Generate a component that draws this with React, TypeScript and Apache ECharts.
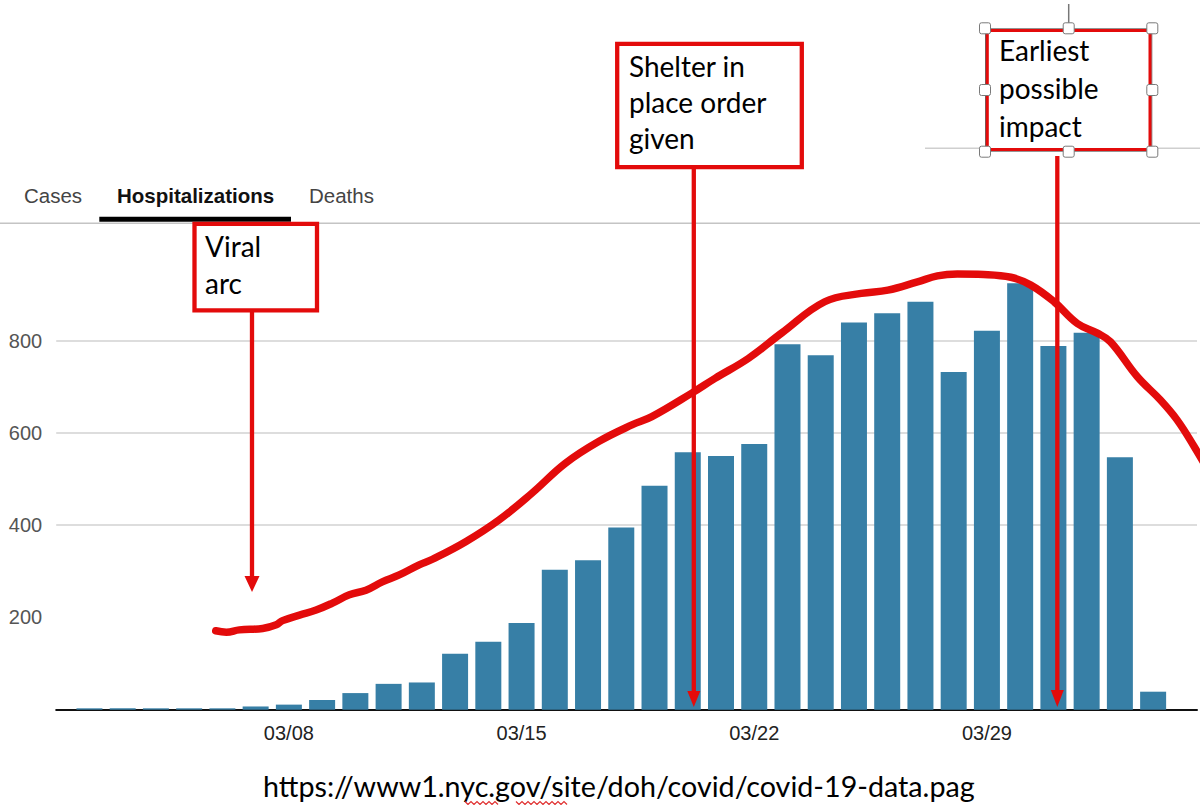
import React, { useEffect, useRef } from 'react';
import * as echarts from 'echarts';

// Daily hospitalizations, NYC (03/02 .. 04/03)
const dates = [
  '03/02', '03/03', '03/04', '03/05', '03/06', '03/07', '03/08', '03/09', '03/10', '03/11',
  '03/12', '03/13', '03/14', '03/15', '03/16', '03/17', '03/18', '03/19', '03/20', '03/21',
  '03/22', '03/23', '03/24', '03/25', '03/26', '03/27', '03/28', '03/29', '03/30', '03/31',
  '04/01', '04/02', '04/03',
];
const hospitalizations = [
  3, 3, 3, 3, 3, 7, 11, 21, 36, 56,
  59, 121, 147, 188, 303, 324, 395, 485, 558, 550,
  576, 792, 768, 839, 859, 884, 732, 821, 924, 788,
  817, 547, 39,
];
const xTickLabels = ['03/08', '03/15', '03/22', '03/29'];
const yTickLabels = [200, 400, 600, 800];

// Hand-drawn "viral arc" curve: position in days from 03/02, value
const arcDay = [
  3.8, 4.12, 4.51, 5.21, 5.62, 5.81, 6.32, 6.82, 7.31, 7.82,
  8.32, 8.81, 9.32, 9.92, 10.32, 11.32, 12.32, 13.31, 14.32, 15.32,
  16.32, 16.92, 18.12, 18.82, 19.82, 20.82, 22.12, 23.22, 24.02, 24.91,
  25.51, 26.11, 26.9, 27.72, 28.32, 29.02, 29.72, 30.32, 30.72, 31.52,
  32.22, 32.72, 33.22, 33.6,
];
const arcValue = [
  171, 168, 173, 176, 184, 193, 205, 216, 231, 249,
  259, 277, 292, 314, 326, 364, 411, 469, 534, 581,
  617, 635, 686, 718, 761, 816, 884, 902, 909, 927,
  940, 944, 943, 937, 920, 884, 837, 816, 797, 722,
  671, 628, 572, 525,
];

const tabs = ['Cases', 'Hospitalizations', 'Deaths'];
const shelterLines = ['Shelter in', 'place order', 'given'];
const viralLines = ['Viral', 'arc'];
const earliestLines = ['Earliest', 'possible', 'impact'];
const sourceText = 'https://www1.nyc.gov/site/doh/covid/covid-19-data.pag';

const RED = '#e30b0b';
const BOX_FONT = '28px Lato';

function textLines(lines: string[], x: number, firstMid: number, step: number) {
  return lines.map((t, k) => ({
    type: 'text',
    z: 20,
    style: {
      text: t, x, y: firstMid + k * step, font: BOX_FONT, fill: '#000',
      textAlign: 'left', textVerticalAlign: 'middle', align: 'left', verticalAlign: 'middle',
    },
  }));
}

function arrow(x: number, y1: number, y2: number, headW: number, headH: number) {
  return [
    { type: 'line', z: 15, shape: { x1: x, y1, x2: x, y2: y2 - headH + 2 }, style: { stroke: RED, lineWidth: 4.3 } },
    { type: 'polygon', z: 15, shape: { points: [[x - headW / 2, y2 - headH], [x + headW / 2, y2 - headH], [x, y2]] }, style: { fill: RED } },
  ];
}

function squiggle(x1: number, x2: number, y: number) {
  const pts: number[][] = [];
  let up = true;
  for (let x = x1; x <= x2; x += 3) { pts.push([x, up ? y - 1.5 : y + 1.5]); up = !up; }
  return { type: 'polyline', z: 20, shape: { points: pts }, style: { stroke: '#e03030', lineWidth: 1.2, fill: null } };
}

export default function App() {
  const ref = useRef<HTMLDivElement>(null);
  useEffect(() => {
    const chart = echarts.init(ref.current!, null, { renderer: 'svg' });

    const handleXs = [985, 1068.7, 1152.3];
    const handleYs = [28.3, 90, 151.7];
    const handles: any[] = [];
    handleYs.forEach((hy, r) => handleXs.forEach((hx, c) => {
      if (r === 1 && c === 1) return;
      handles.push({
        type: 'rect', z: 22,
        shape: { x: hx - 5.5, y: hy - 5.5, width: 11, height: 11, r: 2 },
        style: { fill: '#fff', stroke: '#7a7a7a', lineWidth: 1 },
      });
    }));

    const tabX = [24, 117, 309];
    const tabGraphics = tabs.map((t, k) => ({
      type: 'text', z: 10,
      style: {
        text: t, x: tabX[k], y: 195.3,
        font: (k === 1 ? 'bold ' : '') + '20.5px "Liberation Sans"',
        fill: k === 1 ? '#111' : '#444',
        textAlign: 'left', textVerticalAlign: 'middle', align: 'left', verticalAlign: 'middle',
      },
    }));

    chart.setOption({
      animation: false,
      backgroundColor: '#fff',
      grid: { left: 56.2, right: 0, top: 248.2, height: 461.5 },
      xAxis: {
        type: 'value', min: -1, max: 33.32, interval: 1,
        axisLine: { show: true, onZero: false, lineStyle: { color: '#111', width: 2 } },
        axisTick: { show: false },
        splitLine: { show: false },
        axisLabel: {
          show: true, margin: 13, fontSize: 20, color: '#222', fontFamily: '"Liberation Sans"',
          formatter: (v: number) => {
            const d = dates[v];
            return d && xTickLabels.includes(d) ? d : '';
          },
        },
      },
      yAxis: {
        type: 'value', min: 0, max: 1000, interval: 200,
        axisLine: { show: false }, axisTick: { show: false },
        splitLine: {
          show: true, showMinLine: false, showMaxLine: false,
          lineStyle: { color: ['rgba(0,0,0,0)', '#d2d2d2', '#d2d2d2', '#d2d2d2', '#d2d2d2', 'rgba(0,0,0,0)'], width: 1.5 },
        },
        axisLabel: {
          margin: 14, fontSize: 20, color: '#555', fontFamily: '"Liberation Sans"',
          formatter: (v: number) => (yTickLabels.includes(v) ? String(v) : ''),
        },
      },
      series: [
        {
          type: 'bar', barWidth: 26, z: 2,
          itemStyle: { color: '#377fa6' },
          data: hospitalizations.map((v, i) => [i, v]),
        },
        {
          type: 'line', z: 3, smooth: 0.4, showSymbol: false, symbol: 'none',
          lineStyle: { color: RED, width: 7.5, cap: 'round', join: 'round' },
          data: arcDay.map((d, k) => [d, arcValue[k]]),
        },
      ],
      graphic: [
        // tab bar
        ...tabGraphics,
        { type: 'line', z: 9, shape: { x1: 0, y1: 223.3, x2: 1200, y2: 223.3 }, style: { stroke: '#c4c4c4', lineWidth: 1.5 } },
        { type: 'rect', z: 10, shape: { x: 99.3, y: 216.7, width: 191.7, height: 5 }, style: { fill: '#000' } },
        // faint line behind the "Earliest" box
        { type: 'line', z: 9, shape: { x1: 925, y1: 148.3, x2: 1200, y2: 148.3 }, style: { stroke: '#cfcfcf', lineWidth: 1.5 } },
        // Viral arc box
        { type: 'rect', z: 18, shape: { x: 194.5, y: 223.8, width: 122.5, height: 86.5 }, style: { fill: '#fff', stroke: RED, lineWidth: 4.3 } },
        ...textLines(viralLines, 205, 245.9, 37.3),
        ...arrow(252, 312, 592, 15, 16),
        // Shelter box
        { type: 'rect', z: 18, shape: { x: 617.2, y: 43.8, width: 184.6, height: 123.4 }, style: { fill: '#fff', stroke: RED, lineWidth: 4.3 } },
        ...textLines(shelterLines, 629, 65.9, 36),
        ...arrow(693.8, 169, 707, 13, 16),
        // Earliest box
        { type: 'line', z: 17, shape: { x1: 1068.7, y1: 4, x2: 1068.7, y2: 24 }, style: { stroke: '#777', lineWidth: 1.5 } },
        { type: 'rect', z: 18, shape: { x: 985.5, y: 28.8, width: 166.3, height: 122.4 }, style: { fill: '#fff', stroke: '#666', lineWidth: 1 } },
        { type: 'rect', z: 19, shape: { x: 987.3, y: 30.6, width: 162.7, height: 118.8 }, style: { fill: null, stroke: RED, lineWidth: 3 } },
        ...handles,
        ...textLines(earliestLines, 999, 50.2, 38),
        ...arrow(1057.3, 156, 707, 13, 17),
        // source
        {
          type: 'text', z: 20,
          style: {
            text: sourceText, x: 263, y: 786, font: '28.7px Lato', fill: '#000',
            textAlign: 'left', textVerticalAlign: 'middle', align: 'left', verticalAlign: 'middle',
          },
        },
        squiggle(465, 500, 803),
        squiggle(516, 568, 803),
      ],
    });
    return () => chart.dispose();
  }, []);
  return (
    <div
      ref={ref}
      style={{ position: 'fixed', left: 0, top: 0, width: 1200, height: 805, background: '#fff' }}
    />
  );
}
